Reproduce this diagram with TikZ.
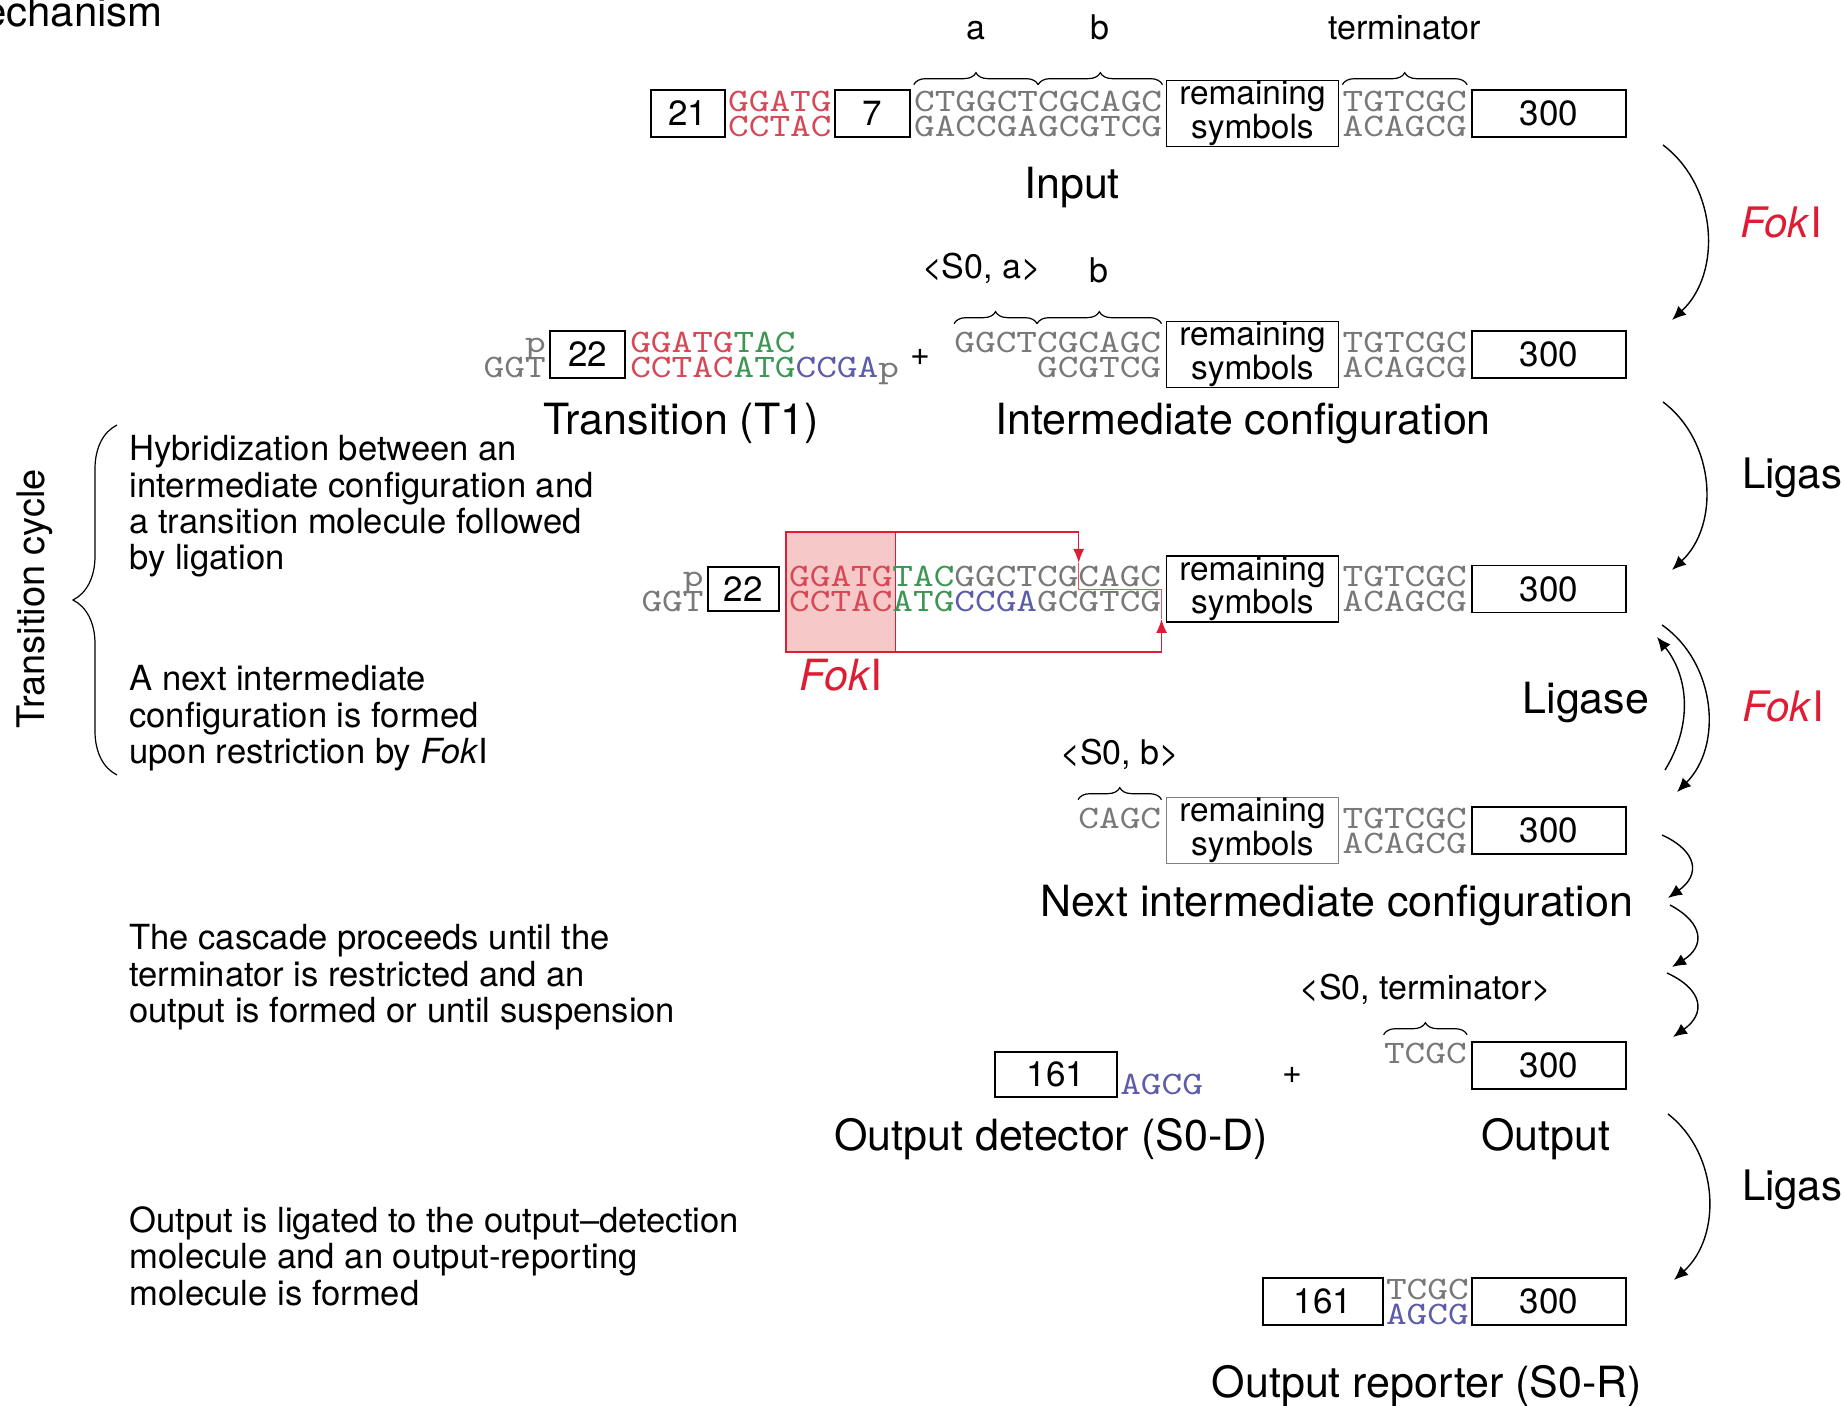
\documentclass[tikz,border=0pt]{standalone}
\usepackage{fontspec}
\setmainfont{TeX Gyre Heros}
\newfontfamily\seqfont[FakeStretch=1.2]{lmmono10-regular.otf}
\usetikzlibrary{arrows.meta, calc, decorations.pathreplacing, backgrounds}

\definecolor{seqgray}{RGB}{120,120,120}
\definecolor{dnared}{RGB}{214,72,86}
\definecolor{dnagreen}{RGB}{62,150,84}
\definecolor{dnablue}{RGB}{92,92,170}
\definecolor{fokred}{RGB}{222,28,52}
\definecolor{fokpink}{RGB}{246,200,200}

\newcommand{\FokI}{\textit{Fok}I}

\begin{document}
\begin{tikzpicture}[
  x=0.5pt, y=0.5pt,
  box/.style      = {draw, line width=0.9pt, inner sep=0pt, minimum height=23.5pt,
                     font=\fontsize{17.5}{18}\selectfont},
  remsym/.style   = {box, minimum width=86pt, minimum height=33pt, align=center,
                     font=\fontsize{16.7}{13.6}\selectfont},
  strand/.style   = {inner sep=0pt, text=seqgray, font=\seqfont\fontsize{16.4}{16}\selectfont},
  title/.style    = {font=\fontsize{21.5}{24}\selectfont},
  enzyme/.style   = {anchor=west, font=\fontsize{21}{24}\selectfont},
  desc/.style     = {anchor=north west, align=left, inner sep=0pt,
                     font=\fontsize{17.3}{18.2}\selectfont},
  symbrace/.style = {decorate, decoration={brace, amplitude=6pt}, line width=0.6pt},
  symlbl/.style   = {inner sep=0pt, font=\fontsize{17}{18}\selectfont},
  react/.style    = {-{Latex[length=7pt, width=6pt]}, line width=0.7pt},
  cut/.style      = {draw=fokred!75, line width=0.8pt},
]
  \useasboundingbox (0,0) rectangle (1842,-1406);

  \node[font=\fontsize{21}{22}\selectfont, anchor=base east] (mech) at (170,-27) {echanism};

  % Input
  \node[box, minimum width=77pt] (in300) at (1549,-113.5) {300};
  \node[strand, anchor=base east] (inTermT) at ($(in300.west)+(-4,2)$) {TGTCGC};
  \node[strand, anchor=base east] (inTermB) at ($(in300.west)+(-4,-22.8)$) {ACAGCG};
  \node[remsym, anchor=east] (inRem) at ($(inTermT.base west)+(-3,-2)$) {remaining\\symbols};
  \node[strand, anchor=base east] (inSymT) at ($(inRem.west)+(-3,2)$) {CTGGCTCGCAGC};
  \node[strand, anchor=base east] (inSymB) at ($(inRem.west)+(-3,-22.8)$) {GACCGAGCGTCG};
  \node[box, minimum width=37.5pt, anchor=east] (in7) at ($(inSymT.base west)+(-3,-2)$) {7};
  \node[strand, anchor=base east, text=dnared] (inSiteT) at ($(in7.west)+(-2,2)$) {GGATG};
  \node[strand, anchor=base east, text=dnared] (inSiteB) at ($(in7.west)+(-2,-22.8)$) {CCTAC};
  \node[box, minimum width=37pt, anchor=east] (in21) at ($(inSiteT.base west)+(-2,-2)$) {21};
  \draw[symbrace] ($(inSymT.north west)+(0,6)$)
    -- node[symlbl, above=22pt] (lblA) {a} ($(inSymT.north west)!0.5!(inSymT.north east)+(0,6)$);
  \draw[symbrace] ($(inSymT.north west)!0.5!(inSymT.north east)+(0,6)$)
    -- node[symlbl, above=22pt] (lblB) {b} ($(inSymT.north east)+(0,6)$);
  \draw[symbrace] ($(inTermT.north west)+(0,6)$)
    -- node[symlbl, above=22pt] (lblTerm) {terminator} ($(inTermT.north east)+(0,6)$);
  \node[title] (inLbl) at (1072,-188) {Input};

  % Transition molecule + intermediate configuration
  \node[box, minimum width=77pt] (ic300) at (1549,-354.5) {300};
  \node[strand, anchor=base east] (icTermT) at ($(ic300.west)+(-4,2)$) {TGTCGC};
  \node[strand, anchor=base east] (icTermB) at ($(ic300.west)+(-4,-22.8)$) {ACAGCG};
  \node[remsym, anchor=east] (icRem) at ($(icTermT.base west)+(-3,-2)$) {remaining\\symbols};
  \node[strand, anchor=base east] (icSymT) at ($(icRem.west)+(-4,2)$) {GGCTCGCAGC};
  \node[strand, anchor=base east] (icSymB) at ($(icRem.west)+(-4,-22.8)$) {GCGTCG};
  \draw[symbrace] ($(icSymT.north west)+(0,8)$)
    -- node[symlbl, above=20pt, xshift=-7pt] (lblSa) {<S0, a>} ($(icSymT.north west)!0.4!(icSymT.north east)+(0,8)$);
  \draw[symbrace] ($(icSymT.north west)!0.4!(icSymT.north east)+(0,8)$)
    -- node[symlbl, above=20pt] (lblSb) {b} ($(icSymT.north east)+(0,8)$);
  \node[font=\fontsize{17}{18}\selectfont] (plus1) at (920,-357) {+};
  \node[box, minimum width=37.5pt] (t22) at (587.5,-354.5) {22};
  \node[strand, anchor=base west] (tStT) at ($(t22.east)+(4,2)$)
    {\textcolor{dnared}{GGATG}\textcolor{dnagreen}{TAC}};
  \node[strand, anchor=base west] (tStB) at ($(t22.east)+(4,-22.8)$)
    {\textcolor{dnared}{CCTAC}\textcolor{dnagreen}{ATG}\textcolor{dnablue}{CCGA}p};
  \node[strand, anchor=base east] (tP) at ($(t22.west)+(-3,2)$) {p};
  \node[strand, anchor=base east] (tGGT) at ($(t22.west)+(-3,-22.8)$) {GGT};
  \node[title] (tLbl) at (681,-423) {Transition (T1)};
  \node[title] (icLbl) at (1243,-423) {Intermediate configuration};

  % Ligated molecule, FokI site
  \node[box, minimum width=77pt] (lg300) at (1549,-589) {300};
  \node[strand, anchor=base east] (lgTermT) at ($(lg300.west)+(-4,2)$) {TGTCGC};
  \node[strand, anchor=base east] (lgTermB) at ($(lg300.west)+(-4,-22.8)$) {ACAGCG};
  \node[remsym, anchor=east] (lgRem) at ($(lgTermT.base west)+(-3,-2)$) {remaining\\symbols};
  \node[strand, anchor=base east] (lgSeqT) at ($(lgRem.west)+(-4,2)$)
    {\textcolor{dnared}{GGATG}\textcolor{dnagreen}{TAC}GGCTCGCAGC};
  \node[strand, anchor=base east] (lgSeqB) at ($(lgRem.west)+(-4,-22.8)$)
    {\textcolor{dnared}{CCTAC}\textcolor{dnagreen}{ATG}\textcolor{dnablue}{CCGA}GCGTCG};
  \node[box, minimum width=35.5pt, minimum height=22pt, anchor=east] (lg22) at ($(lgSeqT.base west)+(-9,-2)$) {22};
  \node[strand, anchor=base east] (lgP) at ($(lg22.west)+(-3,2)$) {p};
  \node[strand, anchor=base east] (lgGGT) at ($(lg22.west)+(-3,-22.8)$) {GGT};

  \coordinate (pinkTL) at ($(lgSeqT.base west)+(-3,55)$);
  \coordinate (pinkBR) at ($(lgSeqT.base west)!5/18!(lgSeqT.base east)+(3,-65)$);
  \coordinate (pinkTR) at (pinkBR |- pinkTL);
  \coordinate (cutT0) at ($(lgSeqT.base west)!14/18!(lgSeqT.base east)+(0,55)$);
  \coordinate (cutT1) at ($(lgSeqT.base west)!14/18!(lgSeqT.base east)+(0,24)$);
  \coordinate (cutM1) at ($(lgSeqT.base west)!14/18!(lgSeqT.base east)+(0,-2.5)$);
  \coordinate (cutM2) at ($(lgSeqT.base east)+(0,-2.5)$);
  \coordinate (cutB1) at ($(lgSeqT.base east)+(0,-32)$);
  \coordinate (cutB0) at ($(lgSeqT.base east)+(0,-65)$);
  \begin{scope}[on background layer]
    \draw[cut, draw=fokred, fill=fokpink] (pinkTL) rectangle (pinkBR);
  \end{scope}
  \draw[cut, -{Latex[length=7pt, width=5.5pt]}, fokred] (pinkTR) -- (cutT0) -- (cutT1);
  \draw[cut, line width=0.6pt] (cutT1) -- (cutM1) -- (cutM2) -- (cutB1);
  \draw[cut, -{Latex[length=7pt, width=5.5pt]}, fokred] (pinkBR) -- (cutB0) -- (cutB1);
  \node[title, text=fokred] (fokSite) at (841,-675) {\FokI};

  % Next intermediate configuration
  \node[box, minimum width=77pt] (nx300) at (1549,-830.5) {300};
  \node[strand, anchor=base east] (nxTermT) at ($(nx300.west)+(-4,2)$) {TGTCGC};
  \node[strand, anchor=base east] (nxTermB) at ($(nx300.west)+(-4,-22.8)$) {ACAGCG};
  \node[remsym, anchor=east, draw=black!50] (nxRem) at ($(nxTermT.base west)+(-3,-2)$) {remaining\\symbols};
  \node[strand, anchor=base east] (nxSymT) at ($(nxRem.west)+(-4,2)$) {CAGC};
  \draw[symbrace] ($(nxSymT.north west)+(0,8)$)
    -- node[symlbl, above=15pt] (lblSbb) {<S0, b>} ($(nxSymT.north east)+(0,8)$);
  \node[title] (nxLbl) at (1337,-905) {Next intermediate configuration};

  % Output and output detector
  \node[box, minimum width=77pt] (out300) at (1549,-1065.5) {300};
  \node[strand, anchor=base east] (outT) at ($(out300.west)+(-4,2)$) {TCGC};
  \draw[symbrace] ($(outT.north west)+(0,8)$)
    -- node[symlbl, above=15pt] (lblTerm2) {<S0, terminator>} ($(outT.north east)+(0,8)$);
  \node[font=\fontsize{17}{18}\selectfont] (plus2) at (1292,-1075) {+};
  \node[box, minimum width=61pt, minimum height=22.5pt] (det161) at (1056,-1074.5) {161};
  \node[strand, anchor=base west, text=dnablue] (detS) at ($(det161.south east)+(2,3)$) {AGCG};
  \node[title] (detLbl) at (1051,-1139) {Output detector (S0-D)};
  \node[title] (outLbl) at (1546,-1139) {Output};

  % Output reporter
  \node[box, minimum width=77pt] (rep300) at (1549,-1301.5) {300};
  \node[strand, anchor=base east] (repT) at ($(rep300.west)+(-2,2)$) {TCGC};
  \node[strand, anchor=base east, text=dnablue] (repB) at ($(rep300.west)+(-2,-22.8)$) {AGCG};
  \node[box, minimum width=60pt, anchor=east] (rep161) at ($(repT.base west)+(-2,-2)$) {161};
  \node[title] (repLbl) at (1427,-1386) {Output reporter (S0-R)};

  % Reaction arrows
  \coordinate (f1s) at (1663,-145);   \coordinate (f1e) at (1672,-320);
  \coordinate (l1s) at (1663,-402);   \coordinate (l1e) at (1672,-570);
  \coordinate (f2s) at (1662,-625);   \coordinate (f2e) at (1677,-792);
  \coordinate (l2s) at (1665,-770);   \coordinate (l2e) at (1657,-637);
  \coordinate (c1s) at (1662,-835);   \coordinate (c1e) at (1668,-898);
  \coordinate (c2s) at (1670,-905);   \coordinate (c2e) at (1672,-967);
  \coordinate (c3s) at (1667,-973);   \coordinate (c3e) at (1673,-1037);
  \coordinate (l3s) at (1668,-1114);  \coordinate (l3e) at (1674,-1280);
  \draw[react] (f1s) to[bend left=50] (f1e);
  \draw[react] (l1s) to[bend left=50] (l1e);
  \draw[react] (f2s) to[bend left=50] (f2e);
  \draw[react] (l2s) to[bend right=35] (l2e);
  \draw[react] (c1s) to[bend left=60, looseness=1.6] (c1e);
  \draw[react] (c2s) to[bend left=60, looseness=1.6] (c2e);
  \draw[react] (c3s) to[bend left=60, looseness=1.6] (c3e);
  \draw[react] (l3s) to[bend left=50] (l3e);
  \node[enzyme, text=fokred] (fok1) at (1733,-223) {\FokI};
  \node[enzyme] (lig1) at (1735,-478) {Ligase};
  \node[title] (lig2) at (1586,-703) {Ligase};
  \node[enzyme, text=fokred] (fok2) at (1735,-707) {\FokI};
  \node[enzyme] (lig3) at (1735,-1190) {Ligase};

  % Left side notes
  \node[rotate=90, font=\fontsize{19}{20}\selectfont] (cycle) at (35,-599) {Transition cycle};
  \coordinate (cycB) at (117,-775);
  \coordinate (cycT) at (117,-425);
  \draw[decorate, decoration={brace, amplitude=22pt}, line width=0.6pt] (cycB) -- (cycT);
  \node[desc] (hybTxt) at (129,-435) {Hybridization between an\\intermediate configuration and\\a transition molecule followed\\by ligation};
  \node[desc] (nextTxt) at (129,-665) {A next intermediate\\configuration is formed\\upon restriction by \FokI};
  \node[desc] (cascTxt) at (129,-924) {The cascade proceeds until the\\terminator is restricted and an\\output is formed or until suspension};
  \node[desc] (outTxt) at (129,-1206) {Output is ligated to the output–detection\\molecule and an output-reporting\\molecule is formed};
\end{tikzpicture}
\end{document}
